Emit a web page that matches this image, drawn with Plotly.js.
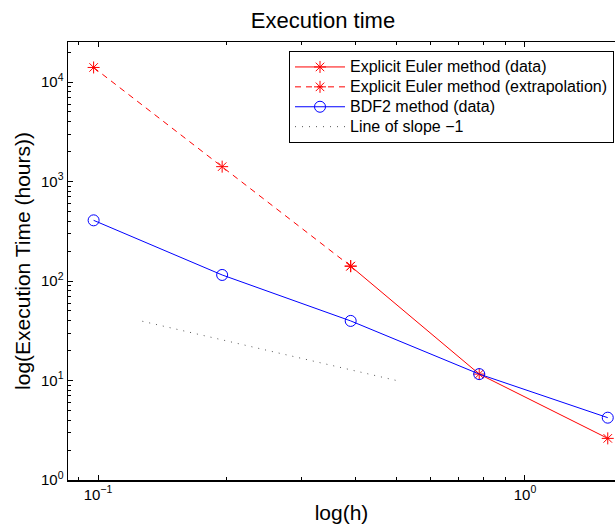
<!DOCTYPE html>
<html>
<head>
<meta charset="utf-8">
<script src="https://cdn.plot.ly/plotly-3.0.1.min.js"></script>
<style>html,body{margin:0;padding:0;background:#fff}#chart{width:615px;height:527px}</style>
</head>
<body>
<div id="chart"></div>
<script>
// Step sizes h
const hValues = [0.09765625, 0.1953125, 0.390625, 0.78125, 1.5625];
// Explicit Euler (measured data) at h[2..4]
const eulerDataH = [0.390625, 0.78125, 1.5625];
const eulerDataT = [141, 11.6, 2.62];
// Explicit Euler (extrapolation) at h[0..2]
const eulerExtrapH = [0.09765625, 0.1953125, 0.390625];
const eulerExtrapT = [14000, 1410, 141];
// BDF2 (data)
const bdf2T = [407, 115, 39.7, 11.6, 4.23];
// Reference line of slope -1
const slopeH = [0.127, 0.5];
const slopeT = [39.4, 10];

// Tick labels
const xTickVals = [0.1, 1];
const xTickText = ['10<sup>\u22121</sup>', '10<sup>0</sup>'];
const yTickVals = [1, 10, 100, 1000, 10000];
const yTickText = ['10<sup>0</sup>', '10<sup>1</sup>', '10<sup>2</sup>', '10<sup>3</sup>', '10<sup>4</sup>'];

const seriesNames = [
  'Explicit Euler method (data)',
  'Explicit Euler method (extrapolation)',
  'BDF2 method (data)',
  'Line of slope \u22121'
];

const FONT = 'Liberation Sans, Arial, Helvetica, sans-serif';
const legendLabel = s => '<span style="font-size:16px">' + s + '</span>';

function minorTicks(lo, hi) {
  const out = [];
  for (let e = lo; e <= hi; e++) for (let d = 2; d <= 9; d++) out.push(d * Math.pow(10, e));
  return out;
}

const traces = [
  {x: eulerDataH, y: eulerDataT, name: legendLabel(seriesNames[0]), mode: 'lines+markers',
   line: {color: '#ff0000', width: 1},
   marker: {symbol: 'asterisk-open', size: 10, color: '#ff0000', line: {color: '#ff0000', width: 1}}},
  {x: eulerExtrapH, y: eulerExtrapT, name: legendLabel(seriesNames[1]), mode: 'lines+markers',
   line: {color: '#ff0000', width: 1, dash: '6px,5px'},
   marker: {symbol: 'asterisk-open', size: 10, color: '#ff0000', line: {color: '#ff0000', width: 1}}},
  {x: hValues, y: bdf2T, name: legendLabel(seriesNames[2]), mode: 'lines+markers',
   line: {color: '#0000ff', width: 1},
   marker: {symbol: 'circle-open', size: 11, color: '#0000ff', line: {color: '#0000ff', width: 1}}},
  {x: slopeH, y: slopeT, name: legendLabel(seriesNames[3]), mode: 'lines',
   line: {color: '#555555', width: 1, dash: '1px,6px'}}
];

const layout = {
  width: 615, height: 527,
  margin: {l: 68, r: 0, t: 42, b: 47, pad: 0},
  paper_bgcolor: '#ffffff', plot_bgcolor: '#ffffff',
  font: {family: FONT, size: 15, color: '#000'},
  showlegend: true,
  title: {text: 'Execution time', font: {family: FONT, size: 22, color: '#000'},
          x: 323/615, xref: 'container', xanchor: 'center', y: 1 - 20/527, yref: 'container', yanchor: 'middle'},
  xaxis: {
    type: 'log', range: [-1.0703, 0.2108], autorange: false,
    showgrid: false, zeroline: false,
    showline: true, linecolor: '#000', linewidth: 1.5, mirror: 'ticks',
    ticks: 'inside', ticklen: 5, tickwidth: 1, tickcolor: '#000',
    tickmode: 'array', tickvals: xTickVals, ticktext: xTickText,
    tickfont: {family: FONT, size: 15, color: '#000'},
    minor: {ticks: 'inside', ticklen: 3, tickwidth: 1, tickcolor: '#000', tickmode: 'array', tickvals: minorTicks(-2, 0), showgrid: false},
    title: {text: 'log(h)', font: {family: FONT, size: 21, color: '#000'}, standoff: 4}
  },
  yaxis: {
    type: 'log', range: [0, 4.402], autorange: false,
    showgrid: false, zeroline: false,
    showline: true, linecolor: '#000', linewidth: 1.5, mirror: false,
    ticks: 'inside', ticklen: 5, tickwidth: 1, tickcolor: '#000',
    tickmode: 'array', tickvals: yTickVals, ticktext: yTickText,
    tickfont: {family: FONT, size: 15, color: '#000'},
    minor: {ticks: 'inside', ticklen: 3, tickwidth: 1, tickcolor: '#000', tickmode: 'array', tickvals: minorTicks(0, 4), showgrid: false},
    title: {text: 'log(Execution Time (hours))', font: {family: FONT, size: 21, color: '#000'}, standoff: 4}
  },
  legend: {
    x: (289 - 68) / 547, xanchor: 'left', y: (480 - 51) / 438, yanchor: 'top',
    bgcolor: '#ffffff', bordercolor: '#000', borderwidth: 1,
    font: {family: FONT, size: 13, color: '#000'},
    tracegroupgap: 0, itemwidth: 50
  }
};

Plotly.newPlot('chart', traces, layout, {staticPlot: true, displayModeBar: false});
</script>
</body>
</html>
